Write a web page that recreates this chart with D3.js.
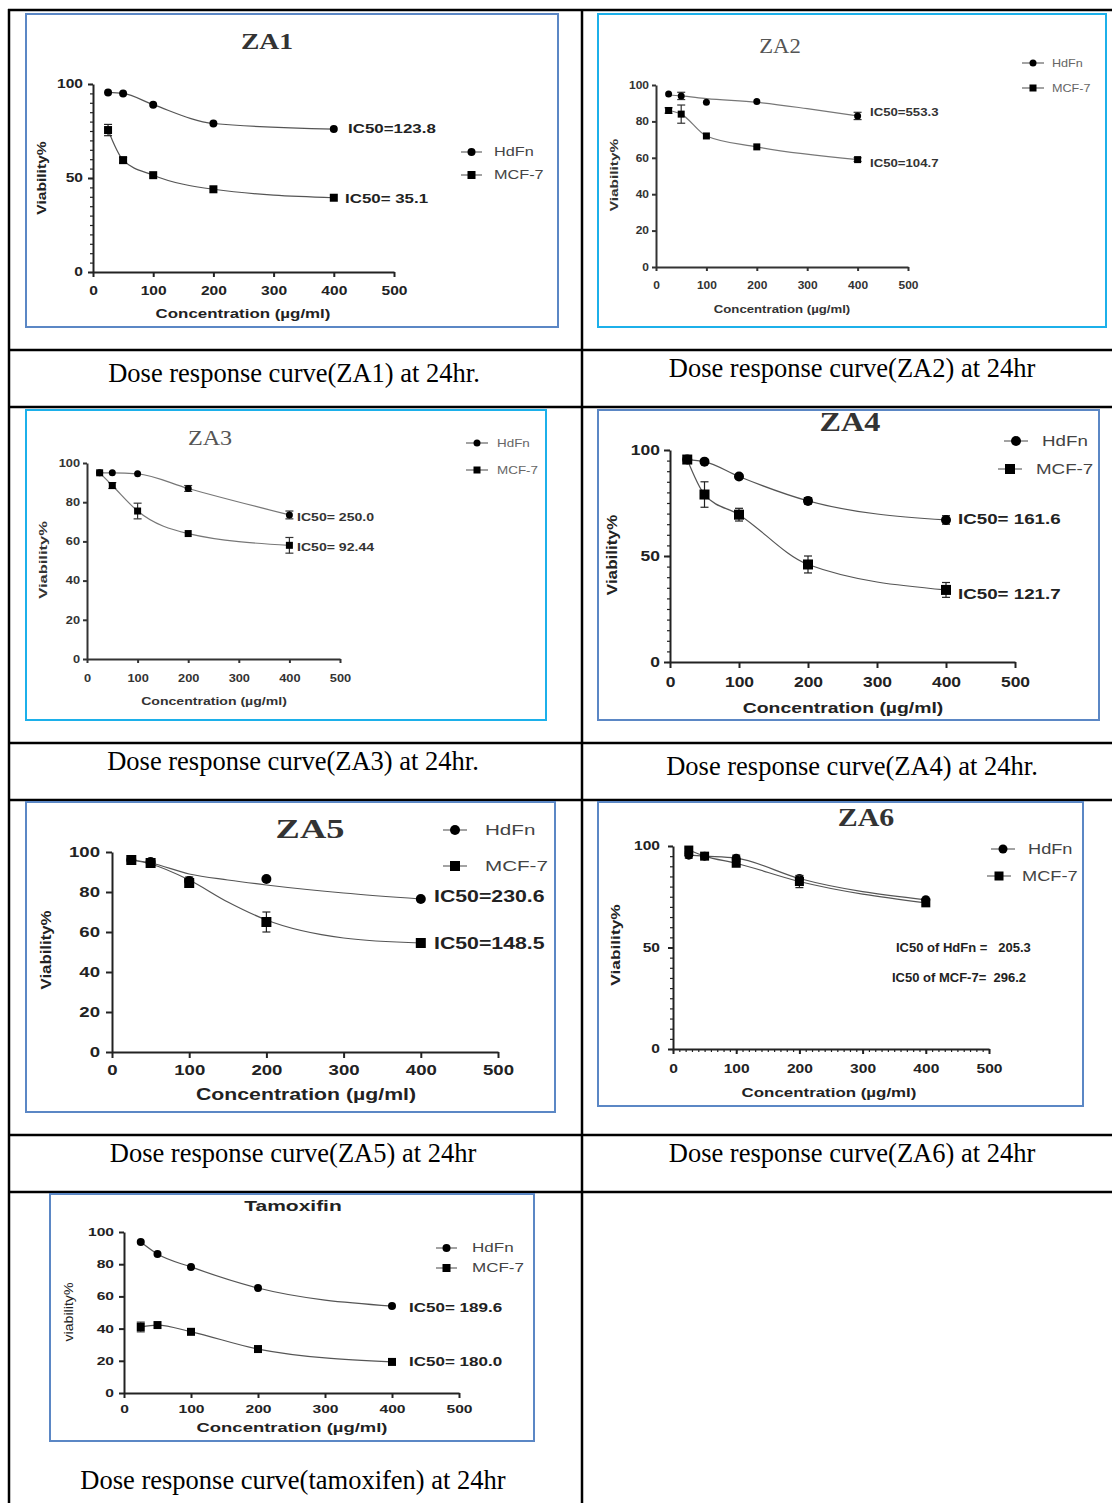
<!DOCTYPE html>
<html><head><meta charset="utf-8">
<script src="https://cdn.jsdelivr.net/npm/d3@7"></script>
<style>body{margin:0;background:#fff}svg{display:block}</style>
</head><body><svg id="c" width="1112" height="1503"></svg>
<script>
// ---------- DATA ----------
const doses = [25, 50, 100, 200, 400];
const xTickValues = [0, 100, 200, 300, 400, 500];
const seriesNames = ["HdFn", "MCF-7"];

const za1HdFn = [95.5, 95, 89, 79, 76];
const za1HdFnErr = [0, 0, 0, 0, 0];
const za1Mcf7 = [75.5, 59.5, 51.5, 44, 39.5];
const za1Mcf7Err = [3, 1.5, 0, 0, 0];
const za1Ic50 = ["IC50=123.8", "IC50= 35.1"];

const za2HdFn = [95, 94, 90.5, 91, 83];
const za2HdFnErr = [0, 2, 0, 0, 2];
const za2Mcf7 = [86, 84, 72, 66, 59];
const za2Mcf7Err = [1.5, 5, 0, 0, 1];
const za2FitDoses = [25, 50, 100, 200, 300, 400];
const za2HdFnFit = [94.5, 94, 92.5, 90.5, 87, 83];
const za2Ic50 = ["IC50=553.3", "IC50=104.7"];

const za3HdFn = [95, 95, 94.5, 87, 73.5];
const za3HdFnErr = [0, 0, 0, 1.5, 2];
const za3Mcf7 = [95, 88.5, 75.5, 64, 58];
const za3Mcf7Err = [0, 1.5, 4, 0, 4];
const za3Ic50 = ["IC50= 250.0", "IC50= 92.44"];

const za4HdFn = [95.5, 94.5, 87.5, 76, 67];
const za4HdFnErr = [0, 0, 0, 1.5, 2];
const za4Mcf7 = [95.5, 79, 69.5, 46, 34];
const za4Mcf7Err = [1.5, 6, 3, 4, 3.5];
const za4Ic50 = ["IC50= 161.6", "IC50= 121.7"];

const za5HdFn = [96, 95, 85.5, 86.5, 76.5];
const za5HdFnErr = [0, 0, 2, 0, 0];
const za5Mcf7 = [96, 94.5, 84.5, 65, 54.5];
const za5Mcf7Err = [0, 0, 1, 5, 0];
const za5FitDoses = [25, 50, 100, 150, 200, 300, 400];
const za5HdFnFit = [96, 94.5, 89, 86, 83.5, 79.5, 76.5];
const za5Mcf7Fit = [96, 94, 86, 75, 66, 57, 54.5];
const za5Ic50 = ["IC50=230.6", "IC50=148.5"];

const za6HdFn = [95.5, 95, 94, 84, 73.5];
const za6HdFnErr = [1.5, 0, 1.5, 0, 0];
const za6Mcf7 = [98, 95, 91.5, 82.5, 72];
const za6Mcf7Err = [1, 1, 1, 3, 1];
const za6Ic50 = ["IC50 of HdFn =   205.3", "IC50 of MCF-7=  296.2"];

const tamHdFn = [93.8, 86.3, 78.3, 65.2, 54];
const tamHdFnErr = [0, 0, 0, 0, 0];
const tamMcf7 = [41, 42.2, 38, 27.3, 19.3];
const tamMcf7Err = [3, 0, 0, 0, 0];
const tamIc50 = ["IC50= 189.6", "IC50= 180.0"];

const captions = [
  "Dose response curve(ZA1) at 24hr.",
  "Dose response curve(ZA2) at 24hr",
  "Dose response curve(ZA3) at 24hr.",
  "Dose response curve(ZA4) at 24hr.",
  "Dose response curve(ZA5) at 24hr",
  "Dose response curve(ZA6) at 24hr",
  "Dose response curve(tamoxifen) at 24hr"
];

// ---------- LAYOUT ----------
const svg = d3.select("#c");
const SANS = "'Liberation Sans', Arial, sans-serif";
const SERIF = "'Liberation Serif', 'Times New Roman', serif";
const STEEL = "#5b87c5", CYAN = "#1cb0ea";

const hLines = [10, 350, 407, 743, 800, 1135, 1192];
const vLines = [9, 582];
svg.selectAll("line.h").data(hLines).enter().append("line")
  .attr("x1", 8).attr("x2", 1112).attr("y1", d => d).attr("y2", d => d)
  .attr("stroke", "#000").attr("stroke-width", 2.5);
svg.selectAll("line.v").data(vLines).enter().append("line")
  .attr("x1", d => d).attr("x2", d => d).attr("y1", 9).attr("y2", 1503)
  .attr("stroke", "#000").attr("stroke-width", 2.5);

const capPos = [[294, 382], [852, 377], [293, 770], [852, 775], [293, 1162], [852, 1162], [293, 1489]];
svg.selectAll("text.cap").data(captions).enter().append("text")
  .attr("x", (d, i) => capPos[i][0]).attr("y", (d, i) => capPos[i][1])
  .attr("text-anchor", "middle").attr("font-family", SERIF).attr("font-size", 26.5)
  .attr("fill", "#000").text(d => d);

// stretched text helper
function stext(g, x, y, sx, rot) {
  return g.append("text")
    .attr("transform", `translate(${x},${y})${rot ? " rotate(-90)" : ""} scale(${sx},1)`);
}

function panel(c) {
  const g = svg.append("g");
  const sx = c.sx || 1;
  g.append("rect").attr("x", c.frame[0]).attr("y", c.frame[1])
    .attr("width", c.frame[2] - c.frame[0]).attr("height", c.frame[3] - c.frame[1])
    .attr("fill", "none").attr("stroke", c.frameColor).attr("stroke-width", 2);

  const x = d3.scaleLinear().domain([0, 500]).range([c.ax[0], c.ax[1]]);
  const y = d3.scaleLinear().domain([0, 100]).range([c.ax[2], c.ax[3]]);
  const ink = c.ink || "#222";

  if (c.yMinor) {
    g.append("g").attr("transform", `translate(${c.ax[0]},0)`)
      .call(d3.axisLeft(y).tickValues(d3.range(0, 101, c.yMinor)).tickSize(3).tickFormat(""))
      .call(s => s.select(".domain").remove())
      .selectAll("line").attr("stroke", ink).attr("stroke-width", 1.2);
  }
  if (c.xMinor) {
    g.append("g").attr("transform", `translate(0,${c.ax[2]})`)
      .call(d3.axisBottom(x).tickValues(d3.range(0, 501, c.xMinor)).tickSize(3).tickFormat(""))
      .call(s => s.select(".domain").remove())
      .selectAll("line").attr("stroke", ink).attr("stroke-width", 1.2);
  }
  const tk = c.tick || 5;
  const yA = g.append("g").attr("transform", `translate(${c.ax[0]},0)`)
    .call(d3.axisLeft(y).tickValues(c.yTicks).tickSize(tk).tickSizeOuter(0).tickPadding(c.yPad || 3));
  const xA = g.append("g").attr("transform", `translate(0,${c.ax[2]})`)
    .call(d3.axisBottom(x).tickValues(xTickValues).tickSize(tk).tickSizeOuter(0).tickPadding(c.xPad || 4));
  [yA, xA].forEach(a => {
    a.select(".domain").attr("stroke", ink).attr("stroke-width", c.axW || 2);
    a.selectAll(".tick line").attr("stroke", ink).attr("stroke-width", c.axW || 2);
    a.selectAll("text").attr("font-family", SANS).attr("font-weight", "bold")
      .attr("font-size", c.tf).attr("fill", ink);
  });
  // horizontal stretch of tick labels
  yA.selectAll("text").each(function () {
    const t = d3.select(this); const xv = +t.attr("x");
    t.attr("x", xv / sx).attr("transform", `scale(${sx},1)`);
  });
  xA.selectAll("text").attr("transform", `scale(${sx},1)`);

  // title
  stext(g, c.title[1], c.title[2], c.title[6] || sx).attr("text-anchor", "middle")
    .attr("font-family", c.title[4] || SERIF).attr("font-weight", c.title[5] || "bold")
    .attr("font-size", c.title[3]).attr("fill", c.titleFill || "#333").text(c.title[0]);
  // axis labels
  stext(g, c.yl[0], c.yl[1], c.syl || 1, true)
    .attr("text-anchor", "middle").attr("dy", "0.35em").attr("font-family", SANS)
    .attr("font-weight", c.ylWeight || "bold").attr("font-size", c.yl[2]).attr("fill", ink).text(c.yl[3] || "Viability%");
  stext(g, c.xl[0], c.xl[1], sx).attr("text-anchor", "middle").attr("dy", "0.35em")
    .attr("font-family", SANS).attr("font-weight", "bold").attr("font-size", c.xl[2]).attr("fill", ink)
    .text("Concentration (µg/ml)");

  // curves
  const line = d3.line().x(d => x(d[0])).y(d => y(d[1])).curve(d3.curveMonotoneX);
  c.series.forEach(s => {
    const fx = s.fitX || doses, fy = s.fit || s.vals;
    g.append("path").datum(fx.map((d, i) => [d, fy[i]])).attr("d", line)
      .attr("fill", "none").attr("stroke", c.curveColor || "#555").attr("stroke-width", c.curveW || 1.2);
  });
  c.series.forEach((s, si) => {
    const pts = doses.map((d, i) => ({ d, v: s.vals[i], e: s.err[i] }));
    const eb = g.append("g");
    pts.filter(p => p.e > 0).forEach(p => {
      const cx = x(p.d), y1 = y(p.v + p.e), y2 = y(p.v - p.e), w = c.capW || 4;
      eb.append("line").attr("x1", cx).attr("x2", cx).attr("y1", y1).attr("y2", y2).attr("stroke", ink).attr("stroke-width", 1.2);
      eb.append("line").attr("x1", cx - w).attr("x2", cx + w).attr("y1", y1).attr("y2", y1).attr("stroke", ink).attr("stroke-width", 1.2);
      eb.append("line").attr("x1", cx - w).attr("x2", cx + w).attr("y1", y2).attr("y2", y2).attr("stroke", ink).attr("stroke-width", 1.2);
    });
    pts.forEach(p => marker(g, si, x(p.d), y(p.v), c.ms, "#000"));
  });

  // IC50 labels
  c.ic50.forEach((t, i) => {
    stext(g, c.icPos[i][0], c.icPos[i][1], c.icSx || sx).attr("dy", "0.35em")
      .attr("font-family", SANS).attr("font-weight", "bold").attr("font-size", c.icF)
      .attr("fill", ink).attr("xml:space", "preserve").style("white-space", "pre").text(t);
  });

  // legend
  seriesNames.forEach((n, i) => {
    const L = c.leg[i];
    g.append("line").attr("x1", L[0]).attr("x2", L[1]).attr("y1", L[2]).attr("y2", L[2])
      .attr("stroke", c.legLine || "#666").attr("stroke-width", 1.2);
    marker(g, i, (L[0] + L[1]) / 2, L[2], c.ms, "#000");
    stext(g, L[3], L[2], sx).attr("dy", "0.35em").attr("font-family", SANS)
      .attr("font-size", c.legF).attr("fill", c.legFill || "#444").text(n);
  });
}

function marker(g, type, cx, cy, ms, fill) {
  if (type === 0) {
    g.append("circle").attr("cx", cx).attr("cy", cy).attr("r", ms / 2).attr("fill", fill);
  } else {
    g.append("rect").attr("x", cx - ms / 2).attr("y", cy - ms / 2).attr("width", ms).attr("height", ms).attr("fill", fill);
  }
}

panel({
  frame: [26, 14, 558, 327], frameColor: STEEL, ax: [93, 394, 272, 84], sx: 1.3, syl: 1.3,
  yTicks: [0, 50, 100], yMinor: 5, tf: 12, xPad: 9, yPad: 5,
  title: ["ZA1", 267, 49, 23, SERIF, "bold", 1.2], yl: [42, 178, 12], xl: [243, 313, 13],
  series: [{ vals: za1HdFn, err: za1HdFnErr }, { vals: za1Mcf7, err: za1Mcf7Err }],
  ic50: za1Ic50, icPos: [[348, 128], [345, 198]], icF: 13,
  leg: [[461, 482, 152, 494], [461, 482, 175, 494]], legF: 12.5, ms: 8
});
panel({
  frame: [598, 14, 1106, 327], frameColor: CYAN, ax: [656, 908, 267, 85], ink: "#333", sx: 1.2, syl: 1.4,
  yTicks: [0, 20, 40, 60, 80, 100], tf: 10, tick: 4, xPad: 11, yPad: 3,
  title: ["ZA2", 780, 53, 21, SERIF, "normal", 1.08], titleFill: "#555", yl: [614, 175, 11], xl: [782, 309, 11],
  series: [{ vals: za2HdFn, err: za2HdFnErr, fitX: za2FitDoses, fit: za2HdFnFit }, { vals: za2Mcf7, err: za2Mcf7Err }],
  ic50: za2Ic50, icPos: [[870, 112], [870, 163]], icF: 11,
  leg: [[1022, 1044, 63, 1052], [1022, 1044, 88, 1052]], legF: 10.5, legFill: "#666", ms: 7, curveColor: "#777"
});
panel({
  frame: [26, 410, 546, 720], frameColor: CYAN, ax: [87, 340, 659, 463], ink: "#333", sx: 1.28, syl: 1.5,
  yTicks: [0, 20, 40, 60, 80, 100], tf: 10, tick: 4, xPad: 12, yPad: 3,
  title: ["ZA3", 210, 445, 21, SERIF, "normal", 1.15], titleFill: "#555", yl: [43, 560, 11], xl: [214, 701, 11],
  series: [{ vals: za3HdFn, err: za3HdFnErr }, { vals: za3Mcf7, err: za3Mcf7Err }],
  ic50: za3Ic50, icPos: [[297, 517], [297, 547]], icF: 11,
  leg: [[466, 488, 443, 497], [466, 488, 470, 497]], legF: 10.5, legFill: "#666", ms: 7, curveColor: "#777"
});
panel({
  frame: [598, 410, 1099, 720], frameColor: STEEL, ax: [670, 1015, 662, 450], sx: 1.25, syl: 1.14,
  yTicks: [0, 50, 100], yMinor: 5, tf: 14, tick: 6, xPad: 9, yPad: 4,
  title: ["ZA4", 850, 431, 28, SERIF, "bold", 1.15], yl: [612, 555, 15], xl: [843, 708, 15.5],
  series: [{ vals: za4HdFn, err: za4HdFnErr }, { vals: za4Mcf7, err: za4Mcf7Err }],
  ic50: za4Ic50, icPos: [[958, 519], [958, 594]], icF: 15,
  leg: [[1004, 1028, 441, 1042], [998, 1022, 469, 1036]], legF: 15, ms: 10
});
panel({
  frame: [26, 802, 555, 1112], frameColor: STEEL, ax: [112, 498, 1052, 852], sx: 1.33, syl: 1.12,
  yTicks: [0, 20, 40, 60, 80, 100], tf: 14, tick: 6, xPad: 7, yPad: 6,
  title: ["ZA5", 310, 838, 28, SERIF, "bold", 1.3], yl: [46, 950, 15], xl: [306, 1094, 16],
  series: [{ vals: za5HdFn, err: za5HdFnErr, fitX: za5FitDoses, fit: za5HdFnFit },
           { vals: za5Mcf7, err: za5Mcf7Err, fitX: za5FitDoses, fit: za5Mcf7Fit }],
  ic50: za5Ic50, icPos: [[434, 896], [434, 943]], icF: 16,
  leg: [[443, 467, 830, 485], [443, 467, 866, 485]], legF: 15.5, ms: 10
});
panel({
  frame: [598, 802, 1083, 1106], frameColor: STEEL, ax: [673, 989, 1049, 846], sx: 1.3, syl: 1.33,
  yTicks: [0, 50, 100], yMinor: 5, xMinor: 10, tf: 12, tick: 5, xPad: 10, yPad: 8,
  title: ["ZA6", 866, 826, 26, SERIF, "bold", 1.15], yl: [615, 945, 13], xl: [829, 1092, 13],
  series: [{ vals: za6HdFn, err: za6HdFnErr }, { vals: za6Mcf7, err: za6Mcf7Err }],
  ic50: za6Ic50, icPos: [[896, 947], [892, 977]], icF: 13, icSx: 1.0,
  leg: [[991, 1015, 849, 1028], [987, 1011, 876, 1022]], legF: 14, ms: 9
});
panel({
  frame: [50, 1194, 534, 1441], frameColor: STEEL, ax: [124, 459, 1393, 1232], sx: 1.42, syl: 1.18,
  yTicks: [0, 20, 40, 60, 80, 100], tf: 11, tick: 5, xPad: 7, yPad: 5,
  title: ["Tamoxifin", 293, 1211, 14, SANS, "bold", 1.5], titleFill: "#222", yl: [69, 1312, 12, "viability%"], ylWeight: "normal",
  xl: [292, 1427, 13],
  series: [{ vals: tamHdFn, err: tamHdFnErr }, { vals: tamMcf7, err: tamMcf7Err }],
  ic50: tamIc50, icPos: [[409, 1308], [409, 1362]], icF: 12,
  leg: [[436, 457, 1248, 472], [436, 457, 1268, 472]], legF: 12, ms: 8
});
</script></body></html>
